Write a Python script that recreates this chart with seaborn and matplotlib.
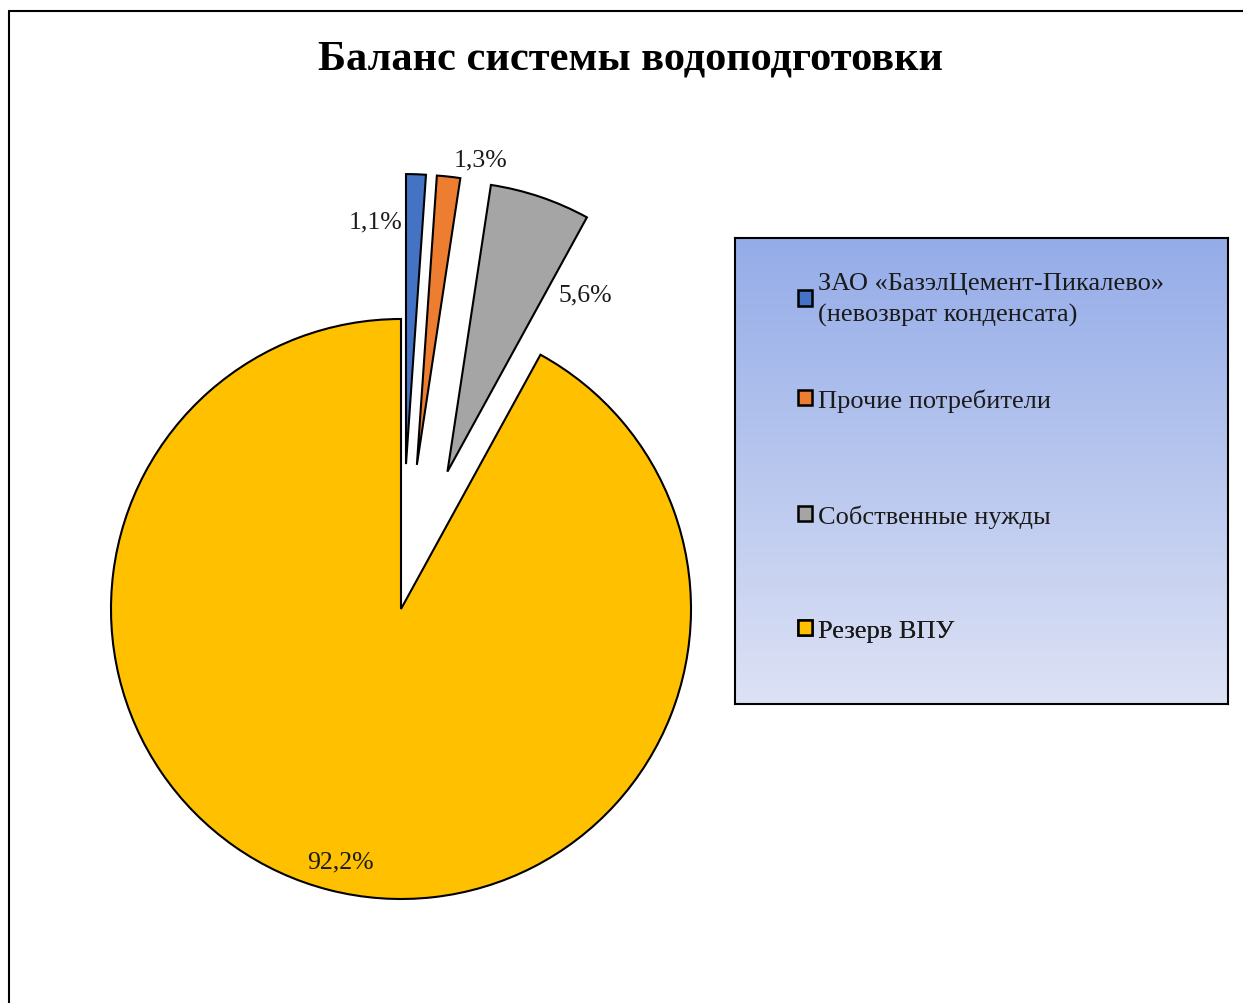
import numpy as np
import matplotlib
matplotlib.use("Agg")
import matplotlib.pyplot as plt
from matplotlib.patches import Patch
from matplotlib.lines import Line2D
from matplotlib.colors import LinearSegmentedColormap
import seaborn as sns

# ---- data ----
categories = ["ЗАО «БазэлЦемент-Пикалево»\n(невозврат конденсата)",
              "Прочие потребители",
              "Собственные нужды",
              "Резерв ВПУ"]
values = [1.1, 1.3, 5.6, 92.2]
colors = ["#4472C4", "#ED7D31", "#A5A5A5", "#FFC000"]
explode = [0.5, 0.5, 0.5, 0.0]
title = "Баланс системы водоподготовки"

sns.set_theme(style="white")
plt.rcParams["font.family"] = ["Liberation Serif", "DejaVu Serif"]

W, H = 1243, 1004
fig = plt.figure(figsize=(W / 100, H / 100), dpi=100)
fig.patch.set_facecolor("white")

# pie axes spanning the whole figure; 1 data unit = 290 px
R = 290.0
cx, cy = 401.0, H - 610.0
ax = fig.add_axes([0, 0, 1, 1])
wedges, _ = ax.pie(values, colors=colors, explode=explode, startangle=90,
                   counterclock=False, radius=1.0,
                   wedgeprops=dict(edgecolor="black", linewidth=1.5))
ax.set_xlim(-cx / R, (W - cx) / R)
ax.set_ylim(-cy / R, (H - cy) / R)
ax.set_aspect("auto")
ax.axis("off")

# data labels (pixel positions of label centres)
label_px = [(376, 222), (481, 160), (585, 295), (340, 862)]
for v, (px, py) in zip(values, label_px):
    txt = f"{v:.1f}".replace(".", ",") + "%"
    ax.text((px - cx) / R, (H - py - cy) / R, txt, ha="center", va="center",
            fontsize=18.5, color="#1a1a1a")

# title
fig.text(631 / W, 1 - 60 / H, title, ha="center", va="center",
         fontsize=30.5, fontweight="bold", color="black")

# legend box with gradient
lx0, ly0, lx1, ly1 = 735, 239, 1228, 705
lax = fig.add_axes([lx0 / W, 1 - ly1 / H, (lx1 - lx0) / W, (ly1 - ly0) / H])
cmap = LinearSegmentedColormap.from_list("g", ["#DDE2F5", "#94ACE8"])
grad = np.linspace(0, 1, 256).reshape(-1, 1)
lax.imshow(grad, aspect="auto", cmap=cmap, origin="lower",
           extent=[0, 1, 0, 1])
lax.set_xlim(0, 1)
lax.set_ylim(0, 1)
lax.set_xticks([])
lax.set_yticks([])
for s in lax.spines.values():
    s.set_visible(True)
    s.set_color("black")
    s.set_linewidth(1.5)

entry_y = [300, 401, 517, 632]
for lab, col, ey in zip(categories, colors, entry_y):
    h = Patch(facecolor=col, edgecolor="black", linewidth=1.8)
    leg = lax.legend(handles=[h], labels=[lab], loc="center left",
                     bbox_to_anchor=((798 - lx0) / (lx1 - lx0),
                                     (ly1 - ey) / (ly1 - ly0)),
                     frameon=False, fontsize=19, borderpad=0,
                     borderaxespad=0, handlelength=0.52, handleheight=0.52,
                     handletextpad=0.22, labelspacing=0)
    for t in leg.get_texts():
        t.set_color("#1a1a1a")
        t.set_linespacing(1.45)
    lax.add_artist(leg)

# outer chart border (left and top visible)
fig.add_artist(Line2D([8.5 / W, 8.5 / W], [0, 1 - 12 / H], color="black",
                      linewidth=1.5, transform=fig.transFigure))
fig.add_artist(Line2D([8.5 / W, 1], [1 - 12 / H, 1 - 12 / H], color="black",
                      linewidth=1.5, transform=fig.transFigure))

fig.savefig("out.png", dpi=100, facecolor="white")
